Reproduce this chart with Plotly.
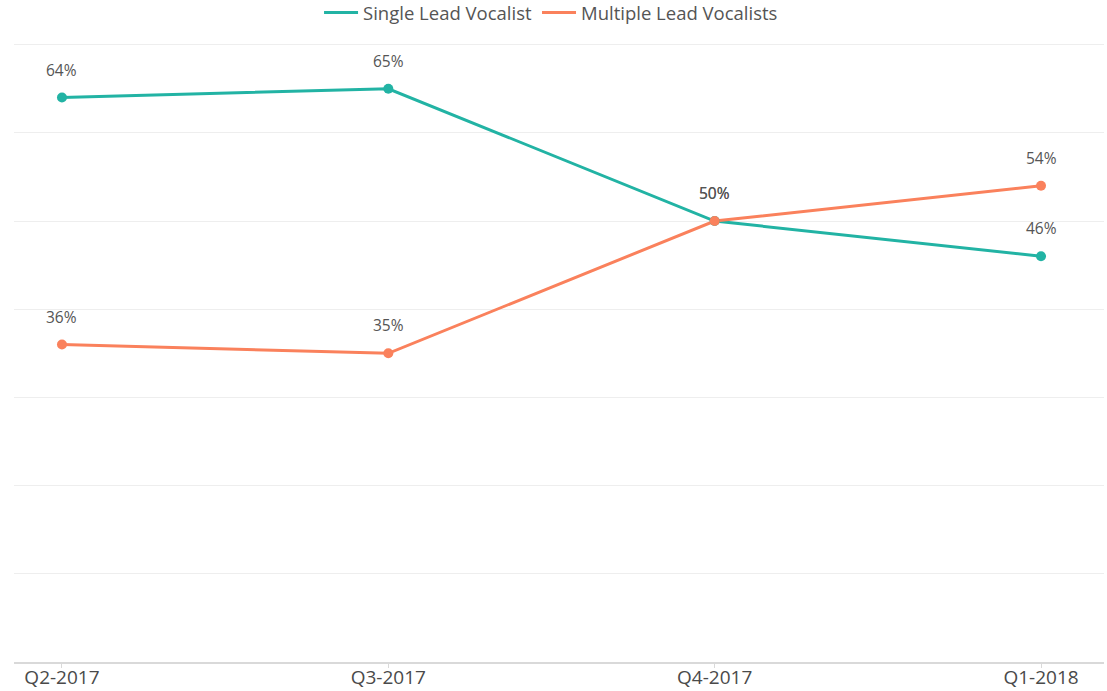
import plotly.graph_objects as go

quarters = ["Q2-2017", "Q3-2017", "Q4-2017", "Q1-2018"]
single_lead = [64, 65, 50, 46]
multiple_lead = [36, 35, 50, 54]
single_labels = ["64%", "65%", "50%", "46%"]
multiple_labels = ["36%", "35%", "50%", "54%"]

teal = "#22b3a4"
orange = "#fa815c"
font_family = "Open Sans, sans-serif"

fig = go.Figure()
for name, vals, color in [("Single Lead Vocalist", single_lead, teal),
                          ("Multiple Lead Vocalists", multiple_lead, orange)]:
    fig.add_trace(go.Scatter(x=quarters, y=vals, mode="lines", name=name,
                             line=dict(color=color, width=3)))
for vals, color in [(single_lead, teal), (multiple_lead, orange)]:
    fig.add_trace(go.Scatter(x=quarters, y=vals, mode="markers", showlegend=False,
                             marker=dict(color=color, size=10), hoverinfo="skip"))

for vals, labels in [(single_lead, single_labels), (multiple_lead, multiple_labels)]:
    for q, v, t in zip(quarters, vals, labels):
        fig.add_annotation(x=q, y=v, text=t, showarrow=False, yshift=28,
                           font=dict(family=font_family, size=15.5, color="#555555"))

fig.update_layout(
    width=1107, height=691,
    margin=dict(l=14, r=3, t=42, b=29, autoexpand=False),
    paper_bgcolor="white", plot_bgcolor="white",
    font=dict(family=font_family, color="#555555"),
    legend=dict(orientation="h", x=0.4927, xanchor="center", y=1.047, yanchor="middle",
                font=dict(size=18.5, color="#555555"), itemwidth=34, traceorder="normal"),
    showlegend=True,
)
fig.update_xaxes(type="category", range=[-0.147, 3.193], showgrid=False,
                 showline=True, linecolor="#d9d9d9", linewidth=2,
                 ticks="outside", ticklen=4, tickcolor="#d9d9d9",
                 ticklabelstandoff=-7,
                 tickfont=dict(size=19, color="#4a4a4a", family=font_family))
fig.update_yaxes(range=[0, 70.3], dtick=10, showticklabels=False, showgrid=True,
                 gridcolor="#eeeeee", gridwidth=1, zeroline=False)

fig.write_html("out.html", config={"displayModeBar": False},
               post_script="document.body.style.margin='0';")
